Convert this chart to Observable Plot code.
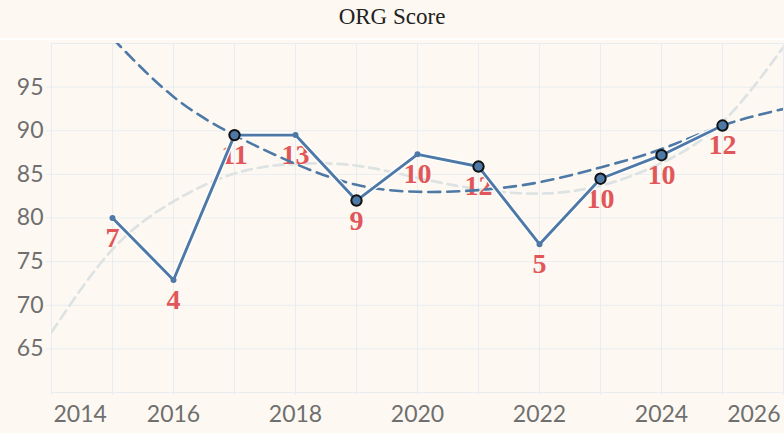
<!DOCTYPE html>
<html>
<head>
<meta charset="utf-8">
<script src="https://cdn.jsdelivr.net/npm/d3@7"></script>
<script src="https://cdn.jsdelivr.net/npm/@observablehq/plot@0.6"></script>
<style>
  html, body { margin: 0; padding: 0; background: #fdf9f2; }
  #title { height: 38px; line-height: 34px; text-align: center; font-family: "Liberation Serif", "Times New Roman", serif; font-size: 23px; color: #222; border-bottom: 2px solid #ffffff; width: 784px; }
  #chart svg { display: block; }
</style>
</head>
<body>
<div id="title">ORG Score</div>
<div id="chart"></div>
<script>
// Observed scores by year
const years = [2015, 2016, 2017, 2018, 2019, 2020, 2021, 2022, 2023, 2024, 2025];
const scores = [80, 72.9, 89.5, 89.5, 82, 87.3, 85.9, 77, 84.5, 87.2, 90.6];
const counts = [7, 4, 11, 13, 9, 10, 12, 5, 10, 10, 12];
const highlighted = [false, false, true, false, true, false, true, false, true, true, true];

// Trend curves
const blueTrendYears = [2015, 2016, 2017, 2018, 2019, 2020, 2021, 2022, 2023, 2024, 2025, 2026];
const blueTrend = [100.6, 93.9, 89.5, 86.2, 83.8, 83.0, 83.2, 84.1, 85.8, 87.9, 90.6, 92.5];
const grayTrendYears = [2014, 2015, 2016, 2017, 2018, 2019, 2020, 2021, 2022, 2023, 2024, 2025, 2026];
const grayTrend = [66.9, 76.4, 81.9, 85.1, 86.2, 86.0, 84.6, 83.3, 82.8, 83.7, 86.3, 91.0, 99.6];

// Axis ticks
const gridYears = [2014, 2015, 2016, 2017, 2018, 2019, 2020, 2021, 2022, 2023, 2024, 2025, 2026];
const labelYearsMid = [2016, 2018, 2020, 2022, 2024];
const yGrid = [60, 65, 70, 75, 80, 85, 90, 95, 100];
const yLabels = [65, 70, 75, 80, 85, 90, 95];

const data = years.map((y, i) => ({year: y, score: scores[i], n: counts[i], hi: highlighted[i]}));
const blue = blueTrendYears.map((y, i) => ({year: y, v: blueTrend[i]}));
const gray = grayTrendYears.map((y, i) => ({year: y, v: grayTrend[i]}));

const gridColor = "#e9edf1";
const tickText = "#6f6f6f";
const tickFont = "Lato, 'Open Sans', sans-serif";
const lineBlue = "#4e79a7";

const xAxisCommon = {tickSize: 0, tickPadding: 13, fontSize: 23, fill: tickText, fontFamily: tickFont, tickFormat: d => String(d), label: null};

const plot = Plot.plot({
  width: 784,
  height: 393,
  marginTop: 3,
  marginBottom: 41,
  marginLeft: 51,
  marginRight: 1,
  style: {background: "transparent", overflow: "visible"},
  x: {domain: [2014, 2026]},
  y: {domain: [60, 100]},
  marks: [
    Plot.gridX(gridYears, {stroke: gridColor, strokeOpacity: 1, strokeWidth: 1}),
    Plot.gridY(yGrid, {stroke: gridColor, strokeOpacity: 1, strokeWidth: 1}),
    Plot.axisX(gridYears, {tickSize: 3, stroke: gridColor, strokeOpacity: 1, tickFormat: () => "", label: null}),
    Plot.axisY(yLabels, {tickSize: 5, stroke: gridColor, strokeOpacity: 1, tickPadding: 3, fontSize: 23, fill: tickText, fontFamily: tickFont, label: null}),
    Plot.axisX(labelYearsMid, xAxisCommon),
    Plot.axisX([2014], {...xAxisCommon, textAnchor: "start", dx: 2}),
    Plot.axisX([2026], {...xAxisCommon, textAnchor: "end", dx: -3}),
    Plot.line(gray, {x: "year", y: "v", curve: "natural", stroke: "#dde2e3", strokeWidth: 2.7, strokeDasharray: "10,6", clip: true}),
    Plot.text(data, {x: "year", y: "score", text: "n", dy: 20, fontSize: 28, fontWeight: "bold", fontFamily: "'Liberation Serif', 'Times New Roman', serif", fill: "#e15759"}),
    Plot.line(blue, {x: "year", y: "v", curve: "natural", stroke: lineBlue, strokeWidth: 2.6, strokeDasharray: "12,7", clip: true}),
    Plot.line(data, {x: "year", y: "score", stroke: "#ffffff", strokeWidth: 5.5}),
    Plot.line(data, {x: "year", y: "score", stroke: lineBlue, strokeWidth: 2.9}),
    Plot.dot(data.filter(d => !d.hi), {x: "year", y: "score", r: 3, fill: lineBlue}),
    Plot.dot(data.filter(d => d.hi), {x: "year", y: "score", r: 5.2, fill: lineBlue, stroke: "#111", strokeWidth: 2})
  ]
});
document.getElementById("chart").appendChild(plot);
</script>
</body>
</html>
